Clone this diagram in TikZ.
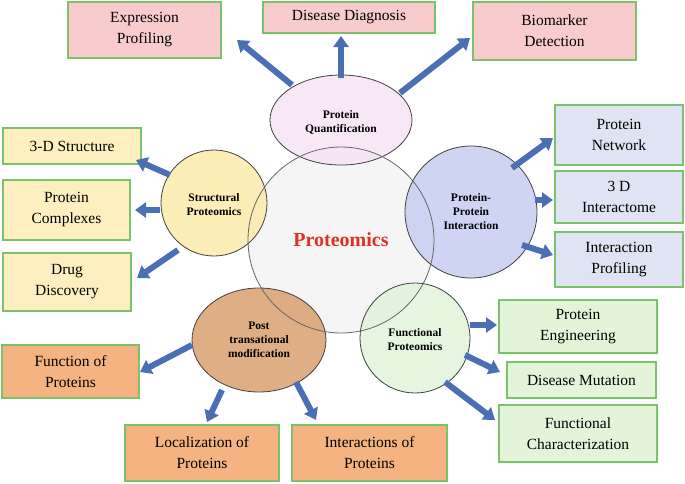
\documentclass[tikz,border=0pt]{standalone}
\usepackage{fontspec}
\setmainfont{Liberation Serif}
\usetikzlibrary{arrows.meta}
\definecolor{gb}{HTML}{7CC26B}
\definecolor{ab}{HTML}{4A6FB5}
\definecolor{pk}{HTML}{F8CCCC}
\definecolor{yl}{HTML}{FDEFC0}
\definecolor{bl}{HTML}{DFE3F3}
\definecolor{gr}{HTML}{E3F4D9}
\definecolor{or}{HTML}{F4B381}
\begin{document}
\begin{tikzpicture}[x=1pt,y=-1pt,
box/.style={draw=gb,line width=1.2pt,align=center,font=\fontsize{15.5}{21}\selectfont,inner sep=0pt},
lab/.style={align=center,font=\bfseries\fontsize{11.5}{14}\selectfont},
arr/.style={draw=ab,line width=6pt,-{Triangle[width=15pt,length=11pt]}},
sat/.style={fill opacity=0.85,draw=black!75,line width=0.8pt}]
\useasboundingbox (0,0) rectangle (685,483);
\fill[gray!8] (341,240) circle (93);
\filldraw[sat,fill={rgb,255:red,247;green,227;blue,245}] (341,120) ellipse (71 and 45);
\filldraw[sat,fill={rgb,255:red,253;green,234;blue,170}] (214,203) circle (53);
\filldraw[sat,fill={rgb,255:red,197;green,205;blue,240}] (471,212) circle (66);
\filldraw[sat,fill={rgb,255:red,217;green,160;blue,112}] (259,340) ellipse (67 and 52);
\filldraw[sat,fill={rgb,255:red,226;green,243;blue,217}] (415,338) circle (55);
\draw[black!60,line width=0.8pt] (341,240) circle (93);
\node[font=\bfseries\fontsize{20}{22}\selectfont,text={rgb,255:red,222;green,50;blue,40}] (prot) at (341,240) {Proteomics};
\node[lab] (pq) at (341,122) {Protein\\Quantification};
\node[lab] (sp) at (214,205) {Structural\\Proteomics};
\node[lab] (ppi) at (471,212) {Protein-\\Protein\\Interaction};
\node[lab] (ptm) at (259,340) {Post\\transational\\modification};
\node[lab] (fp) at (415,340) {Functional\\Proteomics};
\node[box,fill=pk,minimum width=153,minimum height=56] (b1) at (144.5,30) {Expression\\Profiling};
\node[box,fill=pk,minimum width=172,minimum height=31] (b2) at (349,17.5) {Disease Diagnosis};
\node[box,fill=pk,minimum width=163,minimum height=58] (b3) at (554.5,31) {Biomarker\\Detection};
\node[box,fill=yl,minimum width=138,minimum height=36] (b4) at (72,146) {3-D Structure};
\node[box,fill=yl,minimum width=127,minimum height=60] (b5) at (66.5,210) {Protein\\Complexes};
\node[box,fill=yl,minimum width=128,minimum height=58] (b6) at (67,282) {Drug\\Discovery};
\node[box,fill=bl,minimum width=128,minimum height=60] (b7) at (619,135) {Protein\\Network};
\node[box,fill=bl,minimum width=128,minimum height=52] (b8) at (619,197) {3 D\\Interactome};
\node[box,fill=bl,minimum width=128,minimum height=55] (b9) at (619,259.5) {Interaction\\Profiling};
\node[box,fill=gr,minimum width=158,minimum height=53] (b10) at (578,326.5) {Protein\\Engineering};
\node[box,fill=gr,minimum width=149,minimum height=36] (b11) at (581.5,380) {Disease Mutation};
\node[box,fill=gr,minimum width=158,minimum height=57] (b12) at (578,433.5) {Functional\\Characterization};
\node[box,fill=or,minimum width=137,minimum height=53] (b13) at (70.5,371.5) {Function of\\Proteins};
\node[box,fill=or,minimum width=154,minimum height=56] (b14) at (202,453) {Localization of\\Proteins};
\node[box,fill=or,minimum width=155,minimum height=56] (b15) at (369.5,453) {Interactions of\\Proteins};
\foreach \a/\b/\c/\d/\n in {292/85/237/40/1,341/78/341/36/2,400/93/470/38/3,170/175/136/160/4,160/210/135/210/5,178/250/137/278/6,512/168/553/138/7,535/200/553/200/8,522/245/553/255/9,470/325/497/325/10,465/355/500/372/11,445/382/495/420/12,192/345/140/372/13,222/390/207/422/14,296/382/316/420/15}{
\coordinate (s\n) at (\a,\b); \coordinate (e\n) at (\c,\d);
\draw[arr] (s\n) -- (e\n);}
\end{tikzpicture}
\end{document}
